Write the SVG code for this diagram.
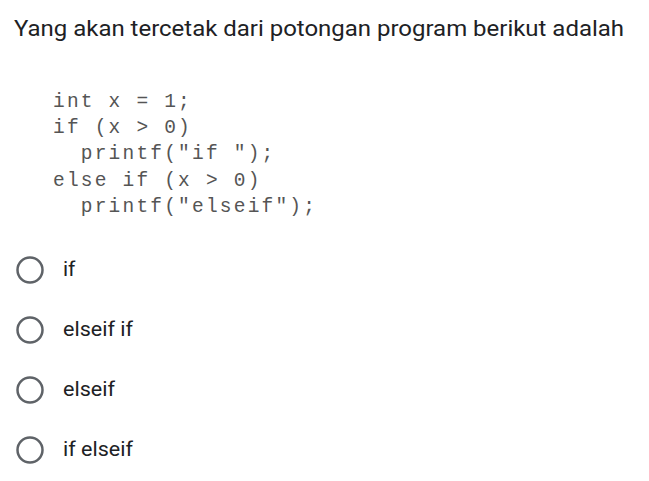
<svg xmlns="http://www.w3.org/2000/svg" width="649" height="481" viewBox="0 0 649 481">
<style>
.t{font-family:Roboto,"Liberation Sans",sans-serif;fill:#202124}
.o{font-size:21px}
.c{font-family:"Liberation Mono","Courier New",monospace;font-size:19.5px;letter-spacing:2.2px;fill:#555;white-space:pre}
.r{fill:none;stroke:#5f6368;stroke-width:2.5}
</style>
<rect width="649" height="481" fill="#fff"/>
<text class="t" x="14" y="36" font-size="22.5" textLength="610" lengthAdjust="spacingAndGlyphs">Yang akan tercetak dari potongan program berikut adalah</text>
<g id="code">
<text class="c" x="53" y="107" xml:space="preserve">int x = 1;</text>
<text class="c" x="53" y="133" xml:space="preserve">if (x &gt; 0)</text>
<text class="c" x="53" y="159" xml:space="preserve">  printf("if ");</text>
<text class="c" x="53" y="186" xml:space="preserve">else if (x &gt; 0)</text>
<text class="c" x="53" y="212" xml:space="preserve">  printf("elseif");</text>
</g>
<g id="opt1"><circle class="r" cx="30" cy="270" r="12.5"/><text class="t o" x="63" y="276">if</text></g>
<g id="opt2"><circle class="r" cx="30" cy="330" r="12.5"/><text class="t o" x="63" y="336" textLength="70" lengthAdjust="spacingAndGlyphs">elseif if</text></g>
<g id="opt3"><circle class="r" cx="30" cy="390" r="12.5"/><text class="t o" x="63" y="396" textLength="52" lengthAdjust="spacingAndGlyphs">elseif</text></g>
<g id="opt4"><circle class="r" cx="30" cy="450" r="12.5"/><text class="t o" x="63" y="456" textLength="70" lengthAdjust="spacingAndGlyphs">if elseif</text></g>
</svg>
